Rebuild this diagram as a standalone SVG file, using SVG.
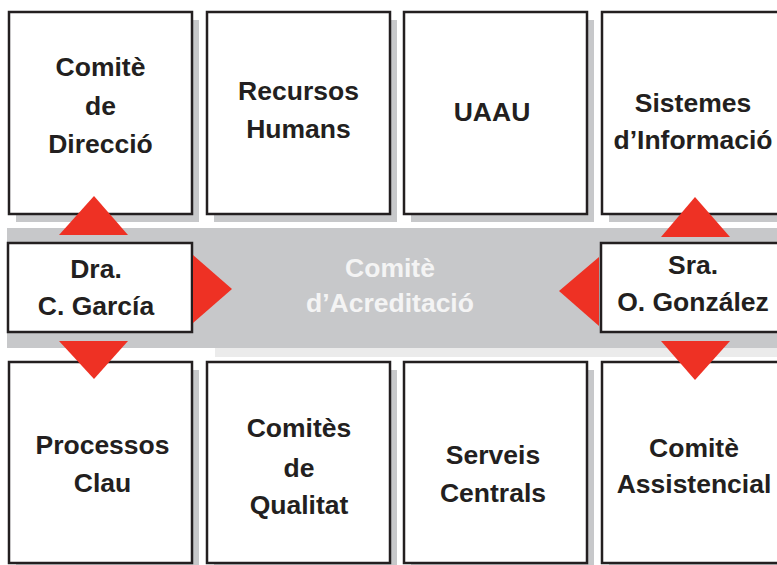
<svg xmlns="http://www.w3.org/2000/svg" width="777" height="565" viewBox="0 0 777 565">
<style>
.shadow{fill:#c7c8ca}
.box{fill:#ffffff;stroke:#231f20;stroke-width:2.5}
.t{font-family:"Liberation Sans",Arial,sans-serif;font-weight:bold;font-size:26.5px;fill:#231f20;text-anchor:middle}
.w{font-family:"Liberation Sans",Arial,sans-serif;font-weight:bold;font-size:26.5px;fill:#f4f4f4;text-anchor:middle}
.arr{fill:#ee3124}
</style>
<rect width="777" height="565" fill="#ffffff"/>
<g id="band">
<rect x="215" y="348" width="562" height="9" fill="#ebebeb"/>
<rect x="7" y="228" width="770" height="120" fill="#c7c8ca"/>
<text class="w" x="390" y="277">Comitè</text>
<text class="w" x="390" y="312">d’Acreditació</text>
</g>
<g id="comite-direccio">
<rect class="shadow" x="16" y="20" width="183" height="202"/>
<rect class="box" x="9" y="12" width="183" height="202"/>
<text class="t" x="100.5" y="76">Comitè</text>
<text class="t" x="100.5" y="115">de</text>
<text class="t" x="100.5" y="153">Direcció</text>
</g>
<g id="recursos-humans">
<rect class="shadow" x="214" y="20" width="183" height="202"/>
<rect class="box" x="207" y="12" width="183" height="202"/>
<text class="t" x="298.5" y="100">Recursos</text>
<text class="t" x="298.5" y="138">Humans</text>
</g>
<g id="uaau">
<rect class="shadow" x="411" y="20" width="183" height="202"/>
<rect class="box" x="404" y="12" width="183" height="202"/>
<text class="t" x="492" y="121">UAAU</text>
</g>
<g id="sistemes-informacio">
<rect class="shadow" x="609" y="20" width="183" height="202"/>
<rect class="box" x="602" y="12" width="183" height="202"/>
<text class="t" x="693" y="112">Sistemes</text>
<text class="t" x="693" y="149">d’Informació</text>
</g>
<g id="processos-clau">
<rect class="shadow" x="16" y="370" width="183" height="201"/>
<rect class="box" x="9" y="362" width="183" height="201"/>
<text class="t" x="102.5" y="454">Processos</text>
<text class="t" x="102.5" y="492">Clau</text>
</g>
<g id="comites-qualitat">
<rect class="shadow" x="214" y="370" width="183" height="201"/>
<rect class="box" x="207" y="362" width="183" height="201"/>
<text class="t" x="299" y="437">Comitès</text>
<text class="t" x="299" y="477">de</text>
<text class="t" x="299" y="514">Qualitat</text>
</g>
<g id="serveis-centrals">
<rect class="shadow" x="411" y="370" width="183" height="201"/>
<rect class="box" x="404" y="362" width="183" height="201"/>
<text class="t" x="493" y="464">Serveis</text>
<text class="t" x="493" y="502">Centrals</text>
</g>
<g id="comite-assistencial">
<rect class="shadow" x="609" y="370" width="183" height="201"/>
<rect class="box" x="602" y="362" width="183" height="201"/>
<text class="t" x="694" y="457">Comitè</text>
<text class="t" x="694" y="493">Assistencial</text>
</g>
<g id="dra-garcia">
<rect class="box" x="8" y="243" width="184" height="89"/>
<text class="t" x="96" y="278">Dra.</text>
<text class="t" x="96" y="315">C. García</text>
</g>
<g id="sra-gonzalez">
<rect class="box" x="601" y="243" width="184" height="89"/>
<text class="t" x="693" y="274">Sra.</text>
<text class="t" x="693" y="311">O. González</text>
</g>
<g id="connectors">
<polygon class="arr" points="94,196 128,235 59,235"/>
<polygon class="arr" points="59,341 128,341 94,379"/>
<polygon class="arr" points="193,255 232,289 193,323"/>
<polygon class="arr" points="599,257 599,326 559,291"/>
<polygon class="arr" points="695,197 730,237 661,237"/>
<polygon class="arr" points="661,341 730,341 695,380"/>
</g>
</svg>
